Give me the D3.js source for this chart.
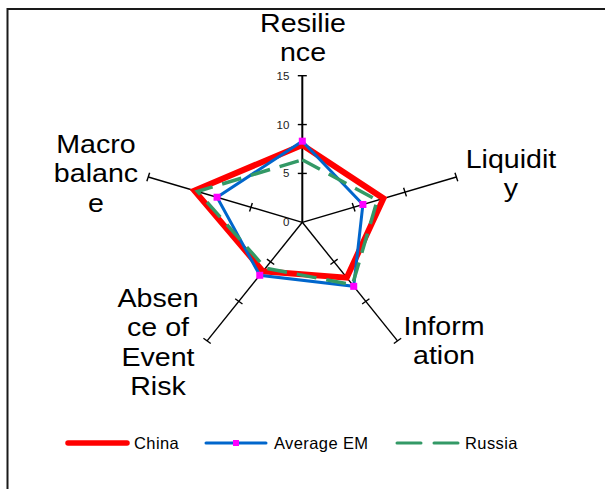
<!DOCTYPE html>
<html>
<head>
<meta charset="utf-8">
<script src="https://cdn.jsdelivr.net/npm/d3@7"></script>
<style>
  html, body { margin: 0; padding: 0; background: #fff; }
  svg { display: block; }
  text { font-family: "Liberation Sans", Arial, sans-serif; fill: #000; }
</style>
</head>
<body>
<div id="chart"></div>
<script>
// Radar chart data
const categories = ["Resilience", "Liquidity", "Information", "Absence of Event Risk", "Macro balance"];
const categoryLines = [["Resilie", "nce"], ["Liquidit", "y"], ["Inform", "ation"], ["Absen", "ce of", "Event", "Risk"], ["Macro", "balanc", "e"]];
const seriesNames = ["China", "Average EM", "Russia"];
const china = [7.9, 7.9, 7.0, 6.2, 10.5];
const averageEM = [8.3, 5.9, 8.1, 6.7, 8.3];
const russia = [6.4, 7.3, 7.9, 5.8, 10.2];
const tickValues = [0, 5, 10, 15];

const W = 605, H = 489;
const cx = 302.3, cy = 222.3;
const sx = 1.105; // horizontal stretch of the plot

const svg = d3.select("#chart").append("svg")
  .attr("width", W).attr("height", H);

// Chart frame
svg.append("rect")
  .attr("x", 7.5).attr("y", 9).attr("width", 700).attr("height", 600)
  .attr("fill", "none").attr("stroke", "#1a1a1a").attr("stroke-width", 2);

const r = d3.scaleLinear().domain([0, 15]).range([0, 146.6]);
const angle = d3.scalePoint().domain(categories).range([0, 2 * Math.PI * 4 / 5]);

function pt(cat, v) {
  const a = angle(cat);
  return [cx + sx * r(v) * Math.sin(a), cy - r(v) * Math.cos(a)];
}

const g = svg.append("g");

// Axes with tick marks
categories.forEach(cat => {
  const end = pt(cat, 15);
  g.append("line")
    .attr("x1", cx).attr("y1", cy).attr("x2", end[0]).attr("y2", end[1])
    .attr("stroke", "#000").attr("stroke-width", cat === categories[0] ? 2 : 1.4);
  const a = angle(cat);
  // perpendicular direction
  const dx = Math.cos(a), dy = Math.sin(a);
  tickValues.filter(t => t > 0).forEach(t => {
    const p = pt(cat, t);
    g.append("line")
      .attr("x1", p[0] - dx * 4.5).attr("y1", p[1] - dy * 4.5)
      .attr("x2", p[0] + dx * 4.5).attr("y2", p[1] + dy * 4.5)
      .attr("stroke", "#000").attr("stroke-width", 1.4);
  });
});

// Value labels on the first axis
g.selectAll("text.tick").data(tickValues).join("text")
  .attr("class", "tick")
  .attr("x", cx - 13)
  .attr("y", d => cy - r(d) + 4)
  .attr("text-anchor", "end")
  .attr("font-size", 11.5)
  .style("fill", "#222")
  .text(d => d);

// Category labels
const labelPos = [
  { x: 303, y: 32 },
  { x: 511, y: 168 },
  { x: 444, y: 335 },
  { x: 158, y: 307 },
  { x: 96, y: 153 }
];
categories.forEach((cat, i) => {
  const lp = labelPos[i];
  const t = svg.append("text")
    .attr("transform", `translate(${lp.x},${lp.y}) scale(1.1,1)`)
    .attr("text-anchor", "middle")
    .attr("font-size", 26);
  categoryLines[i].forEach((ln, j) => {
    t.append("tspan").attr("x", 0).attr("y", j * 29.3).text(ln);
  });
});

const line = d3.line().curve(d3.curveLinearClosed);
const seriesStyles = [
  { values: china, color: "#ff0000", width: 6, dash: null },
  { values: averageEM, color: "#0066cc", width: 3, dash: null },
  { values: russia, color: "#339966", width: 3.5, dash: "20,10" }
];

seriesStyles.forEach((s, k) => {
  const pts = categories.map((c, i) => pt(c, s.values[i]));
  g.append("path")
    .attr("d", line(pts))
    .attr("fill", "none")
    .attr("stroke", s.color)
    .attr("stroke-width", s.width)
    .attr("stroke-linejoin", "miter")
    .attr("stroke-dasharray", s.dash);
  if (k === 1) {
    g.selectAll("rect.mk").data(pts).join("rect")
      .attr("class", "mk")
      .attr("x", d => d[0] - 3.5).attr("y", d => d[1] - 3.5)
      .attr("width", 7).attr("height", 7)
      .attr("fill", "#ff00ff");
  }
});

// Legend
const legendY = 443;
const lg = svg.append("g");
const legendItems = [
  { x0: 68, x1: 127, tx: 134, style: seriesStyles[0] },
  { x0: 206, x1: 266, tx: 274, style: seriesStyles[1] },
  { x0: 397, x1: 458, tx: 465, style: seriesStyles[2] }
];
legendItems.forEach((it, i) => {
  lg.append("line")
    .attr("x1", it.x0).attr("x2", it.x1).attr("y1", legendY).attr("y2", legendY)
    .attr("stroke", it.style.color)
    .attr("stroke-width", i === 0 ? 5.5 : 3)
    .attr("stroke-linecap", "round")
    .attr("stroke-dasharray", i === 2 ? "24,13" : null);
  if (i === 1) {
    lg.append("rect")
      .attr("x", (it.x0 + it.x1) / 2 - 3).attr("y", legendY - 3)
      .attr("width", 6).attr("height", 6).attr("fill", "#ff00ff");
  }
  lg.append("text")
    .attr("x", it.tx).attr("y", legendY + 6)
    .attr("font-size", 16.5)
    .attr("letter-spacing", 0.4)
    .text(seriesNames[i]);
});
</script>
</body>
</html>
